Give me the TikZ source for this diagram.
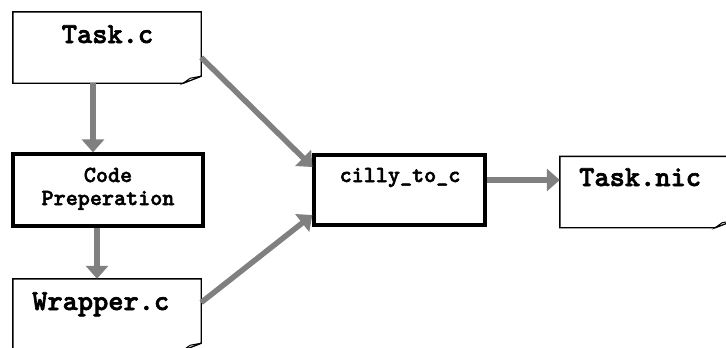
\documentclass[tikz,border=0pt]{standalone}
\usepackage{fontspec}
\newfontfamily\codefont{lmmonolt10-bold}[Extension=.otf, FakeBold=2.2]
\usetikzlibrary{arrows.meta}
\definecolor{flowgray}{HTML}{808080}
\begin{document}
\begin{tikzpicture}[x=1pt,y=-1pt,
  docbox/.style={rectangle, minimum width=188pt, minimum height=71pt, inner sep=0pt},
  procbox/.style={rectangle, draw=black, line width=3.2pt, inner sep=0pt},
  docline/.style={draw=black, line width=1.4pt, line join=miter},
  bigtxt/.style={font=\codefont\fontsize{29}{32}\selectfont, inner sep=0pt},
  smalltxt/.style={font=\codefont\fontsize{23}{23}\selectfont, inner sep=0pt, align=center},
  flow/.style={draw=flowgray, line width=5.5pt, -{Triangle[width=22pt,length=13pt]}}
]
\clip (0,0) rectangle (726,348);
\useasboundingbox (0,0) rectangle (726,348);

% document-shaped boxes (outline drawn below)
\node[docbox] (taskc) at (107,47.5) {};
\node[docbox] (wrap)  at (107,314.5) {};
\node[docbox, minimum width=173pt] (nic) at (646.5,192) {};

% outlines with a folded bottom-right corner
\foreach \n in {taskc,wrap,nic}{
  \path[docline, fill=white]
    (\n.north west) -- (\n.north east) -- ([yshift=7pt]\n.south east)
    -- ([xshift=-18pt]\n.south east) -- (\n.south west) -- cycle;
  \path[docline, fill=white, line width=1pt]
    ([xshift=-18pt]\n.south east) -- ([xshift=-11pt,yshift=5pt]\n.south east)
    -- ([yshift=7pt]\n.south east) -- cycle;
}

% process boxes
\node[procbox, minimum width=190pt, minimum height=72pt] (prep) at (108,190) {};
\node[procbox, minimum width=171pt, minimum height=70pt] (cilly) at (399.5,190) {};

% labels
\node[bigtxt, anchor=base] (taskclbl) at (107.5,43) {Task.c};
\node[bigtxt, anchor=base west] (wraplbl) at (32,310) {Wrapper.c};
\node[bigtxt, anchor=base west] (niclbl) at (579,186) {Task.nic};
\node[smalltxt, anchor=base] (preplbl) at (108,205) {Code\\Preperation};
\node[smalltxt, anchor=base] (cillylbl) at (400,182) {cilly\_to\_c};

% flow arrows
\draw[flow] ([xshift=-14pt]taskc.south) -- ([xshift=-14pt]taskc.south |- prep.north);
\draw[flow] ([xshift=-11pt]prep.south) -- ([xshift=-11pt]prep.south |- wrap.north);
\draw[flow] ([yshift=-10pt]taskc.east) -- ([yshift=23pt]cilly.west);
\draw[flow] ([yshift=12pt]wrap.east) -- ([yshift=-25pt]cilly.west);
\draw[flow] ([yshift=10pt]cilly.east) -- ([yshift=10pt]cilly.east -| nic.west);
\end{tikzpicture}
\end{document}
